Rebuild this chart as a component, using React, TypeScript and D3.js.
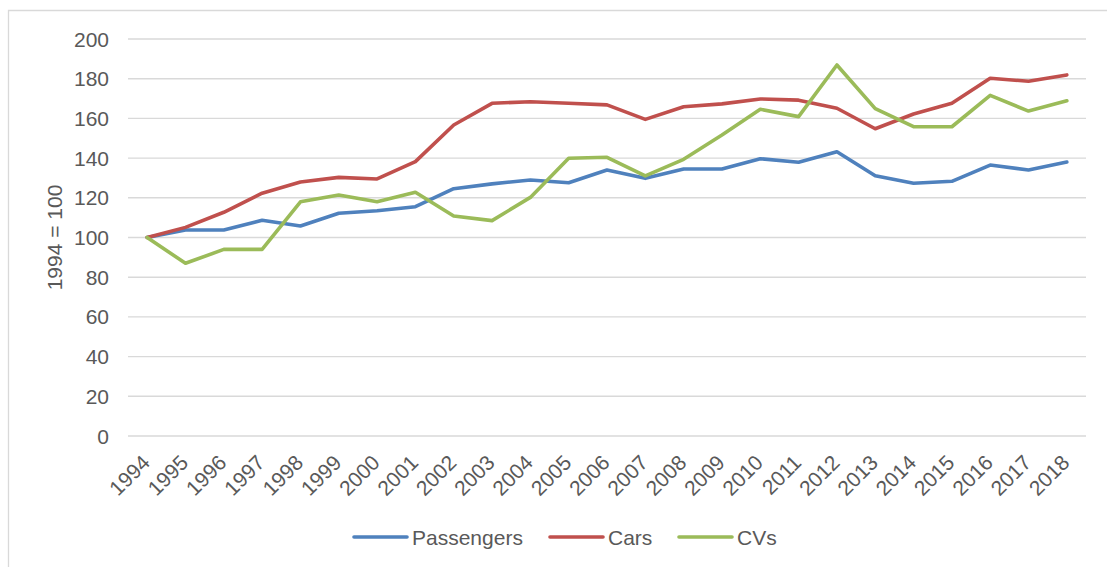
import React from "react";
import * as d3 from "d3";

const years: string[] = [
  "1994", "1995", "1996", "1997", "1998", "1999", "2000", "2001", "2002",
  "2003", "2004", "2005", "2006", "2007", "2008", "2009", "2010", "2011",
  "2012", "2013", "2014", "2015", "2016", "2017", "2018",
];

const passengers: number[] = [
  100, 103.8, 103.8, 108.7, 105.8, 112.2, 113.5, 115.5, 124.6,
  127, 129, 127.6, 134, 129.8, 134.5, 134.5, 139.7, 137.9,
  143.2, 131.1, 127.3, 128.3, 136.5, 134, 138,
];

const cars: number[] = [
  100, 105.1, 112.7, 122.3, 128, 130.3, 129.5, 138.2, 156.7,
  167.6, 168.4, 167.6, 166.8, 159.5, 165.9, 167.3, 169.8, 169.2,
  165.1, 154.8, 162.2, 167.6, 180.2, 178.7, 181.9,
];

const cvs: number[] = [
  100, 87, 94, 94, 118, 121.4, 118, 122.8, 110.8,
  108.5, 120.2, 139.9, 140.4, 131, 139.4, 151.6, 164.6, 160.9,
  186.9, 164.9, 155.8, 155.8, 171.6, 163.7, 168.9,
];

const yTicks: number[] = [0, 20, 40, 60, 80, 100, 120, 140, 160, 180, 200];

const seriesNames: string[] = ["Passengers", "Cars", "CVs"];
const seriesColors: string[] = ["#4f81bd", "#c0504d", "#9bbb59"];

const W = 1107;
const H = 567;
const plot = { left: 128, right: 1086, top: 39, bottom: 436 };
const font = "'Liberation Sans', Arial, sans-serif";
const textColor = "#595959";
const fs = 21;

export default function App() {
  const x = d3
    .scalePoint<string>()
    .domain(years)
    .range([plot.left, plot.right])
    .padding(0.5);
  const y = d3.scaleLinear().domain([0, 200]).range([plot.bottom, plot.top]);

  const line = d3
    .line<number>()
    .x((_, i) => x(years[i]) as number)
    .y((d) => y(d));

  const series = [passengers, cars, cvs];

  const legendX = [354, 550, 679];
  const legendY = 537;

  return (
    <svg
      width={W}
      height={H}
      style={{ position: "absolute", left: 0, top: 0, background: "#fff" }}
      fontFamily={font}
    >
      {/* chart frame */}
      <path
        d={`M8.5,${H + 5} V10.5 H${W + 5}`}
        fill="none"
        stroke="#d9d9d9"
        strokeWidth={1.3}
      />

      {/* gridlines */}
      {yTicks.map((t) => (
        <line
          key={`g${t}`}
          x1={plot.left}
          x2={plot.right}
          y1={y(t)}
          y2={y(t)}
          stroke="#d9d9d9"
          strokeWidth={1.4}
        />
      ))}

      {/* y tick labels */}
      {yTicks.map((t) => (
        <text
          key={`yl${t}`}
          x={109}
          y={y(t)}
          dy="0.36em"
          textAnchor="end"
          fontSize={fs}
          fill={textColor}
        >
          {t}
        </text>
      ))}

      {/* y axis title */}
      <text
        transform={`translate(62,${(plot.top + plot.bottom) / 2}) rotate(-90)`}
        textAnchor="middle"
        fontSize={fs}
        fill={textColor}
      >
        1994 = 100
      </text>

      {/* x tick labels */}
      {years.map((yr) => (
        <text
          key={`xl${yr}`}
          transform={`translate(${(x(yr) as number) + 4},464) rotate(-45)`}
          textAnchor="end"
          fontSize={fs}
          fill={textColor}
        >
          {yr}
        </text>
      ))}

      {/* series lines */}
      {series.map((s, i) => (
        <path
          key={seriesNames[i]}
          d={line(s) as string}
          fill="none"
          stroke={seriesColors[i]}
          strokeWidth={3.6}
          strokeLinejoin="round"
          strokeLinecap="round"
        />
      ))}

      {/* legend */}
      {seriesNames.map((n, i) => (
        <g key={`lg${n}`}>
          <line
            x1={legendX[i]}
            x2={legendX[i] + 53}
            y1={legendY}
            y2={legendY}
            stroke={seriesColors[i]}
            strokeWidth={3.6}
            strokeLinecap="round"
          />
          <text
            x={legendX[i] + 58}
            y={legendY}
            dy="0.36em"
            fontSize={fs}
            fill={textColor}
          >
            {n}
          </text>
        </g>
      ))}
    </svg>
  );
}
